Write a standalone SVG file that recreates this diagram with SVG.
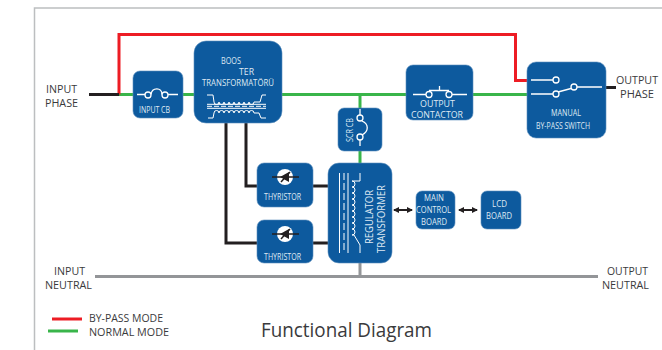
<svg xmlns="http://www.w3.org/2000/svg" width="662" height="350" viewBox="0 0 662 350">
<style>
text{font-family:"Open Sans","Noto Sans","Liberation Sans",sans-serif}
.l{font-size:10.5px;fill:#3a3a3c}
.w{font-size:8.6px;fill:#dfe9f3}
.box{fill:#0d5a9e;stroke:#5c8fbe;stroke-width:.6}
.sym{fill:none;stroke:#fff;stroke-width:1.3}
.c{fill:#0d5a9e;stroke:#fff;stroke-width:1.3}
.wire{fill:none;stroke-width:3}
.red{stroke:#ed1c24}.green{stroke:#39b54a}.black{stroke:#231f20}.grey{stroke:#939598}
</style>
<defs>
<marker id="ah" viewBox="0 0 6 6" refX="5" refY="3" markerWidth="3" markerHeight="3" orient="auto-start-reverse"><path d="M0 0L6 3L0 6z" fill="#231f20"/></marker>
</defs>
<path d="M662 8H34.5V350" fill="none" stroke="#bcbec0" stroke-width="1.5"/>
<g id="connectors">
<path class="wire green" d="M119 94.500H527"/>
<path class="wire green" d="M360 94.500V163"/>
<path class="wire red" d="M119 94.500V34.500H515.500V80.500H527"/>
<path class="wire black" d="M89 94.500H119"/>
<path class="wire black" d="M606 87.500H616"/>
<path class="wire black" d="M246 123V186H257M313 186H328"/>
<path class="wire black" d="M226 123V243H257M313 243H328"/>
<path class="wire grey" d="M95 276.500H598M360 263V276.500"/>
<path class="wire black" style="stroke-width:2" d="M394 210H412" marker-start="url(#ah)" marker-end="url(#ah)"/>
<path class="wire black" style="stroke-width:2" d="M459 210H477" marker-start="url(#ah)" marker-end="url(#ah)"/>
</g>
<g id="input-phase"><text class="l" x="46" y="93" textLength="31" lengthAdjust="spacingAndGlyphs">INPUT</text><text class="l" x="45" y="107" textLength="33" lengthAdjust="spacingAndGlyphs">PHASE</text></g>
<g id="output-phase"><text class="l" x="616" y="84" textLength="42" lengthAdjust="spacingAndGlyphs">OUTPUT</text><text class="l" x="620" y="98" textLength="34" lengthAdjust="spacingAndGlyphs">PHASE</text></g>
<g id="input-neutral"><text class="l" x="54" y="275" textLength="31" lengthAdjust="spacingAndGlyphs">INPUT</text><text class="l" x="45" y="289" textLength="47" lengthAdjust="spacingAndGlyphs">NEUTRAL</text></g>
<g id="output-neutral"><text class="l" x="607" y="275" textLength="41" lengthAdjust="spacingAndGlyphs">OUTPUT</text><text class="l" x="602" y="289" textLength="47" lengthAdjust="spacingAndGlyphs">NEUTRAL</text></g>
<g id="input-cb">
<rect class="box" x="133" y="71" width="50" height="47" rx="7"/>
<path class="sym" d="M137 94.500H145M151 94.500C152 87 162 87 162 94.500M168 94.500H178"/>
<circle class="c" cx="148" cy="95" r="3"/><circle class="c" cx="165" cy="95" r="3"/>
<text class="w" x="139" y="113" textLength="31" lengthAdjust="spacingAndGlyphs">INPUT CB</text>
</g>
<g id="boost-transformer">
<rect class="box" x="194" y="41" width="88" height="82" rx="12"/>
<text class="w" x="221" y="64" textLength="20" lengthAdjust="spacingAndGlyphs">BOOS</text>
<text class="w" x="239" y="75" textLength="15" lengthAdjust="spacingAndGlyphs">TER</text>
<text class="w" x="202" y="85.500" textLength="72" lengthAdjust="spacingAndGlyphs">TRANSFORMATÖRÜ</text>
<path class="sym" style="stroke-width:1" d="M207 95H213L214 102a2.500 2.500 0 0 0 5 0a2.500 2.500 0 0 0 5 0a2.500 2.500 0 0 0 5 0a2.500 2.500 0 0 0 5 0a2.500 2.500 0 0 0 5 0a2.500 2.500 0 0 0 5 0a2.500 2.500 0 0 0 5 0a2.500 2.500 0 0 0 5 0H260L262 95H266"/>
<path class="sym" style="stroke-width:1" d="M208 118H213L214 113a2.500 2.500 0 0 1 5 0a2.500 2.500 0 0 1 5 0a2.500 2.500 0 0 1 5 0a2.500 2.500 0 0 1 5 0a2.500 2.500 0 0 1 5 0a2.500 2.500 0 0 1 5 0a2.500 2.500 0 0 1 5 0a2.500 2.500 0 0 1 5 0H259L261 118H266"/>
<path class="sym" style="stroke-width:1" d="M207 104.300H266M207 108.300H266"/>
<path class="sym" style="stroke-width:1" stroke-dasharray="5 2" d="M207 106.300H266"/>
</g>
<g id="scr-cb">
<rect class="box" x="338" y="108" width="44" height="43" rx="6"/>
<path class="sym" d="M360 109V115M362 121C369 124 369 131 362 135M360 140V146"/>
<circle class="c" cx="360" cy="118" r="3"/><circle class="c" cx="360" cy="137" r="3"/>
<text class="w" transform="translate(353 142) rotate(-90)" textLength="24" lengthAdjust="spacingAndGlyphs">SCR CB</text>
</g>
<g id="output-contactor">
<rect class="box" x="406" y="65" width="67" height="55" rx="7"/>
<path class="sym" d="M413 94.500H426M452 94.500H467M429 90.500H449M439.500 86V90.500"/>
<circle class="c" cx="429" cy="94.500" r="3"/><circle class="c" cx="449" cy="94.500" r="3"/>
<text class="w" x="420" y="106.500" textLength="35" lengthAdjust="spacingAndGlyphs">OUTPUT</text>
<text class="w" x="411" y="118" textLength="52" lengthAdjust="spacingAndGlyphs">CONTACTOR</text>
</g>
<g id="manual-bypass-switch">
<rect class="box" x="527" y="62" width="79" height="76" rx="9"/>
<path class="sym" d="M531 80H553M531 94H553M558 92L571 88.500M577 87H602"/>
<circle class="c" cx="556" cy="80" r="3"/><circle class="c" cx="556" cy="94" r="3"/><circle class="c" cx="574" cy="87" r="3"/>
<text class="w" x="551" y="116" textLength="30" lengthAdjust="spacingAndGlyphs">MANUAL</text>
<text class="w" x="536" y="129" textLength="54" lengthAdjust="spacingAndGlyphs">BY-PASS SWITCH</text>
</g>
<g id="thyristor-1">
<rect class="box" x="257" y="163" width="56" height="44" rx="7"/>
<circle cx="285" cy="177" r="8" fill="#fff"/>
<path fill="none" stroke="#231f20" stroke-width="1.500" d="M272 177H299M290 172L281 182"/>
<path fill="#231f20" d="M280 177L289 172V182z"/>
<text class="w" x="264" y="200" textLength="37" lengthAdjust="spacingAndGlyphs">THYRISTOR</text>
</g>
<g id="thyristor-2">
<rect class="box" x="257" y="220" width="56" height="43" rx="7"/>
<circle cx="285" cy="234" r="8" fill="#fff"/>
<path fill="none" stroke="#231f20" stroke-width="1.500" d="M272 234H299M290 229L281 239"/>
<path fill="#231f20" d="M280 234L289 229V239z"/>
<text class="w" x="264" y="260" textLength="37" lengthAdjust="spacingAndGlyphs">THYRISTOR</text>
</g>
<g id="regulator-transformer">
<rect class="box" x="328" y="163" width="64" height="100" rx="11"/>
<path class="sym" style="stroke-width:1" d="M339.500 173V253M348 173V253"/>
<path class="sym" style="stroke-width:1" stroke-dasharray="7 3" d="M344 173V253"/>
<path class="sym" style="stroke-width:1" d="M360 173V181H352a3 3 0 0 1 0 6a3 3 0 0 1 0 6a3 3 0 0 1 0 6a3 3 0 0 1 0 6a3 3 0 0 1 0 6a3 3 0 0 1 0 6a3 3 0 0 1 0 6a3 3 0 0 1 0 6a3 3 0 0 1 0 6H354L360 245V253"/>
<text class="w" transform="translate(373 244) rotate(-90)" textLength="54" lengthAdjust="spacingAndGlyphs" style="font-size:10px">REGULATOR</text>
<text class="w" transform="translate(385 253) rotate(-90)" textLength="68" lengthAdjust="spacingAndGlyphs" style="font-size:10px">TRANSFORMER</text>
</g>
<g id="main-control-board">
<rect class="box" x="416" y="191" width="39" height="38" rx="6"/>
<text class="w" x="424" y="201" textLength="20" lengthAdjust="spacingAndGlyphs">MAIN</text>
<text class="w" x="416" y="213" textLength="35" lengthAdjust="spacingAndGlyphs">CONTROL</text>
<text class="w" x="421" y="225" textLength="26" lengthAdjust="spacingAndGlyphs">BOARD</text>
</g>
<g id="lcd-board">
<rect class="box" x="481" y="191" width="40" height="38" rx="6"/>
<text class="w" x="492" y="207" textLength="15" lengthAdjust="spacingAndGlyphs">LCD</text>
<text class="w" x="486" y="219" textLength="26" lengthAdjust="spacingAndGlyphs">BOARD</text>
</g>
<g id="legend">
<path class="wire red" d="M52 319H82"/>
<path class="wire green" d="M48 331H78"/>
<text class="l" x="89" y="322" textLength="74" lengthAdjust="spacingAndGlyphs">BY-PASS MODE</text>
<text class="l" x="89" y="336" textLength="80" lengthAdjust="spacingAndGlyphs">NORMAL MODE</text>
</g>
<text x="261" y="337" textLength="171" lengthAdjust="spacingAndGlyphs" style="font-size:20px;fill:#3a3a3c">Functional Diagram</text>
</svg>
